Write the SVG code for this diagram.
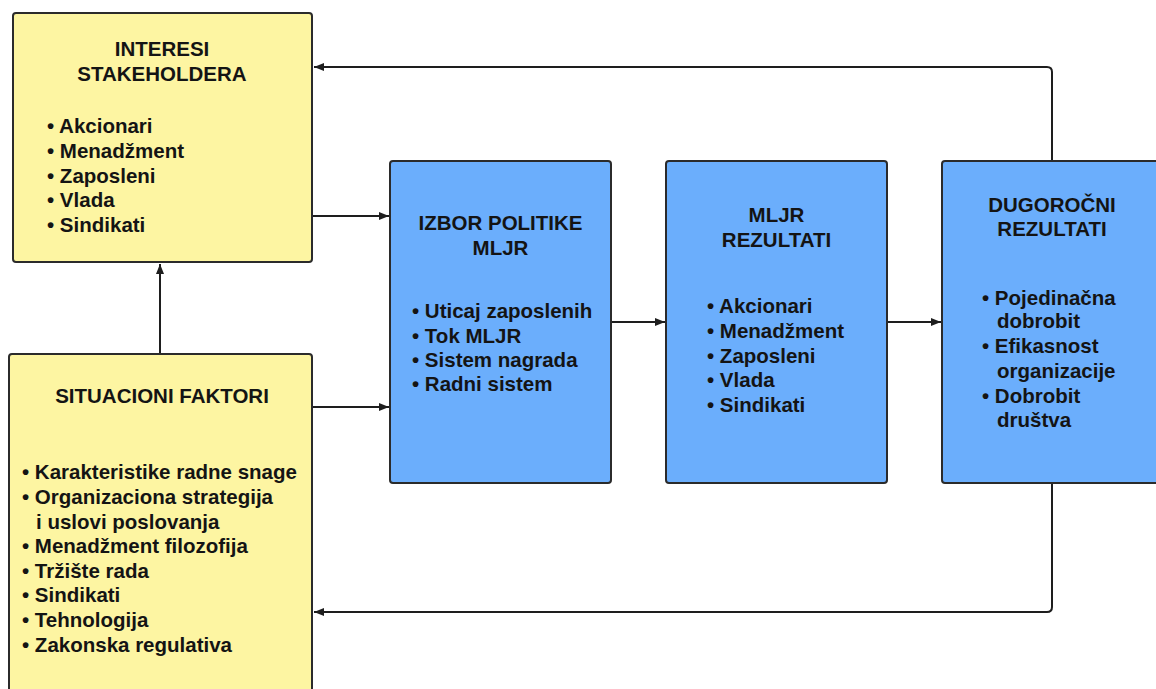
<svg xmlns="http://www.w3.org/2000/svg" width="1156" height="689" viewBox="0 0 1156 689">
  <style>
    .yellow { fill: #FDF5A2; stroke: #2b2b2b; stroke-width: 2; }
    .blue { fill: #6BAEFC; stroke: #2b2b2b; stroke-width: 2; }
    .title { font-family: "Liberation Sans", Arial, sans-serif; font-weight: bold; font-size: 20.5px; fill: #141414; text-anchor: middle; }
    .item { font-family: "Liberation Sans", Arial, sans-serif; font-weight: bold; font-size: 20.5px; fill: #141414; }
    .link { fill: none; stroke: #1e1e1e; stroke-width: 2; marker-end: url(#arrow); }
  </style>
  <defs>
    <marker id="arrow" viewBox="0 0 10 8" refX="10" refY="4" markerWidth="10" markerHeight="8" markerUnits="userSpaceOnUse" orient="auto">
      <path d="M0,0 L10,4 L0,8 Z" fill="#1e1e1e"/>
    </marker>
  </defs>
  <rect width="1156" height="689" fill="#ffffff"/>

  <!-- connectors -->
  <g id="connectors">
    <path class="link" d="M1052,161 V72 Q1052,67 1047,67 H314"/>
    <path class="link" d="M313,216 H389"/>
    <path class="link" d="M160,353 V264"/>
    <path class="link" d="M313,407 H389"/>
    <path class="link" d="M611,322 H665"/>
    <path class="link" d="M887,322 H941"/>
    <path class="link" d="M1052,483 V607 Q1052,612 1047,612 H314"/>
  </g>

  <!-- stakeholder interests -->
  <g id="node-interesi">
    <rect class="yellow" x="13" y="13" width="299" height="249" rx="3"/>
    <text class="title" x="162" y="56">INTERESI</text>
    <text class="title" x="162" y="81">STAKEHOLDERA</text>
    <text class="item" x="47" y="133">• Akcionari</text>
    <text class="item" x="47" y="158">• Menadžment</text>
    <text class="item" x="47" y="183">• Zaposleni</text>
    <text class="item" x="47" y="207">• Vlada</text>
    <text class="item" x="47" y="232">• Sindikati</text>
  </g>

  <!-- situational factors -->
  <g id="node-situacioni">
    <rect class="yellow" x="9" y="354" width="303" height="345" rx="3"/>
    <text class="title" x="162" y="403">SITUACIONI FAKTORI</text>
    <text class="item" x="22" y="479">• Karakteristike radne snage</text>
    <text class="item" x="22" y="504">• Organizaciona strategija</text>
    <text class="item" x="36" y="529">i uslovi poslovanja</text>
    <text class="item" x="22" y="553">• Menadžment filozofija</text>
    <text class="item" x="22" y="578">• Tržište rada</text>
    <text class="item" x="22" y="602">• Sindikati</text>
    <text class="item" x="22" y="627">• Tehnologija</text>
    <text class="item" x="22" y="652">• Zakonska regulativa</text>
  </g>

  <!-- HRM policy choice -->
  <g id="node-izbor">
    <rect class="blue" x="390" y="161" width="221" height="322" rx="3"/>
    <text class="title" x="500.5" y="230">IZBOR POLITIKE</text>
    <text class="title" x="500.5" y="255">MLJR</text>
    <text class="item" x="412" y="318">• Uticaj zaposlenih</text>
    <text class="item" x="412" y="343">• Tok MLJR</text>
    <text class="item" x="412" y="367">• Sistem nagrada</text>
    <text class="item" x="412" y="391">• Radni sistem</text>
  </g>

  <!-- HRM outcomes -->
  <g id="node-rezultati">
    <rect class="blue" x="666" y="161" width="221" height="322" rx="3"/>
    <text class="title" x="776.5" y="222">MLJR</text>
    <text class="title" x="776.5" y="247">REZULTATI</text>
    <text class="item" x="707" y="313">• Akcionari</text>
    <text class="item" x="707" y="338">• Menadžment</text>
    <text class="item" x="707" y="363">• Zaposleni</text>
    <text class="item" x="707" y="387">• Vlada</text>
    <text class="item" x="707" y="412">• Sindikati</text>
  </g>

  <!-- long-term consequences -->
  <g id="node-dugorocni">
    <rect class="blue" x="942" y="161" width="230" height="322" rx="3"/>
    <text class="title" x="1052" y="212">DUGOROČNI</text>
    <text class="title" x="1052" y="236">REZULTATI</text>
    <text class="item" x="982" y="305">• Pojedinačna</text>
    <text class="item" x="997" y="328">dobrobit</text>
    <text class="item" x="982" y="353">• Efikasnost</text>
    <text class="item" x="997" y="378">organizacije</text>
    <text class="item" x="982" y="403">• Dobrobit</text>
    <text class="item" x="997" y="427">društva</text>
  </g>
</svg>
